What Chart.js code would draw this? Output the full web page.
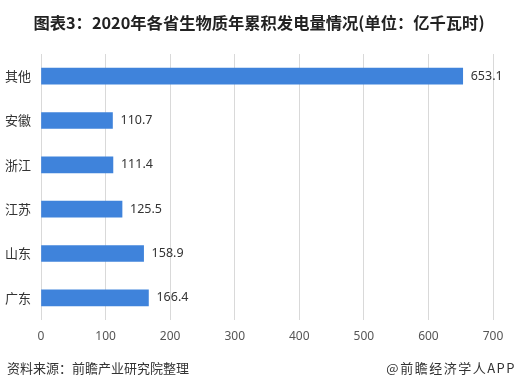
<!DOCTYPE html>
<html>
<head>
<meta charset="utf-8">
<script src="https://cdn.jsdelivr.net/npm/chart.js@4/dist/chart.umd.min.js"></script>
<style>
  body { margin: 0; background: #fff; font-family: "Noto Sans CJK SC", "Noto Sans", sans-serif; }
  #wrap { position: relative; width: 518px; height: 389px; overflow: hidden; }
  #title { position: absolute; top: 10px; left: 0; width: 518px; text-align: center; font-size: 16.3px; font-weight: bold; color: #222; }
  #src { position: absolute; left: 7px; top: 358px; font-size: 13px; color: #333; }
  #app { position: absolute; right: 2px; top: 358px; font-size: 13px; color: #333; letter-spacing: 1.5px; }
  canvas { position: absolute; left: 0; top: 0; }
</style>
</head>
<body>
<div id="wrap">
  <canvas id="chart" width="518" height="389"></canvas>
  <div id="title">图表3：2020年各省生物质年累积发电量情况(单位：亿千瓦时)</div>
  <div id="src">资料来源：前瞻产业研究院整理</div>
  <div id="app">@前瞻经济学人APP</div>
</div>
<script>
const provinces = ['其他', '安徽', '浙江', '江苏', '山东', '广东'];
const generation = [653.1, 110.7, 111.4, 125.5, 158.9, 166.4];
const xTicks = [0, 100, 200, 300, 400, 500, 600, 700];

const valueLabels = {
  id: 'valueLabels',
  afterDatasetsDraw(chart) {
    const ctx = chart.ctx;
    const meta = chart.getDatasetMeta(0);
    ctx.save();
    ctx.font = '12.5px "Noto Sans", sans-serif';
    ctx.fillStyle = '#333';
    ctx.textAlign = 'left';
    ctx.textBaseline = 'middle';
    meta.data.forEach((bar, i) => {
      ctx.fillText(generation[i].toFixed(1), bar.x + 8, bar.y);
    });
    ctx.restore();
  }
};

new Chart(document.getElementById('chart'), {
  type: 'bar',
  data: {
    labels: provinces,
    datasets: [{
      data: generation,
      backgroundColor: '#3f83db',
      barThickness: 16
    }]
  },
  options: {
    indexAxis: 'y',
    responsive: false,
    animation: false,
    layout: { padding: { top: 54, right: 25, bottom: 39, left: 0 } },
    plugins: { legend: { display: false }, tooltip: { enabled: false } },
    scales: {
      x: {
        min: 0,
        max: 700,
        afterBuildTicks(axis) { axis.ticks = xTicks.map(v => ({ value: v })); },
        afterFit(axis) { axis.height = 30; },
        grid: { color: '#d9d9d9', drawTicks: false },
        border: { display: false },
        ticks: { color: '#555', padding: 9, font: { size: 12, family: '"Noto Sans", sans-serif' } }
      },
      y: {
        afterFit(axis) { axis.width = 41; },
        grid: { display: false, drawTicks: false },
        border: { display: false },
        ticks: { color: '#333', padding: 10, font: { size: 13, family: '"Noto Sans CJK SC", sans-serif' } }
      }
    }
  },
  plugins: [valueLabels]
});
</script>
</body>
</html>
